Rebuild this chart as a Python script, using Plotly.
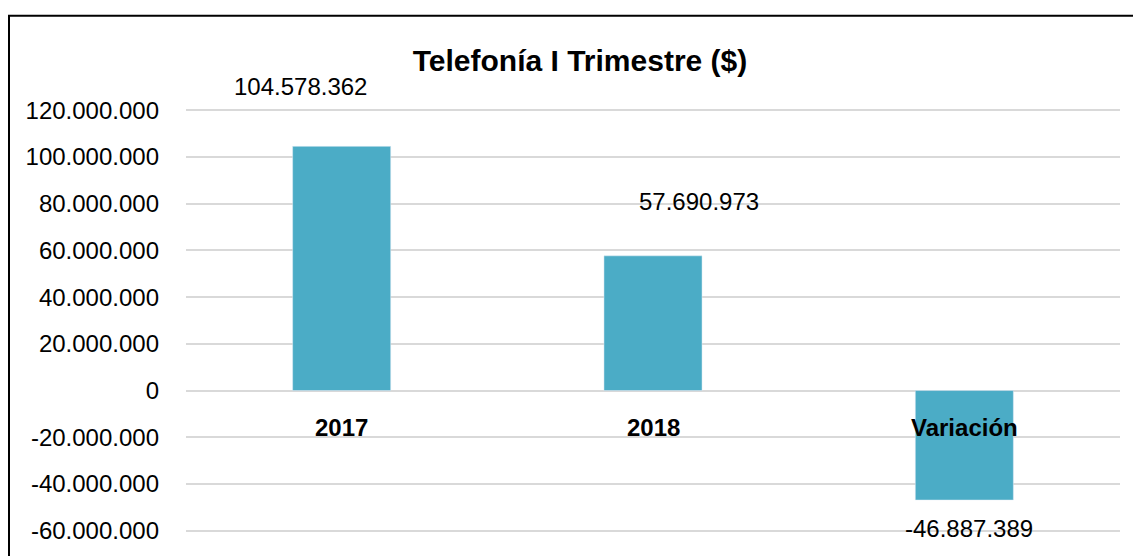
'''
    Bar chart: Telefonía I Trimestre ($), 2017 vs 2018 and the variation.
'''

import plotly.graph_objects as go

categories = ["2017", "2018", "Variación"]
values = [104578362, 57690973, -46887389]
value_labels = ["104.578.362", "57.690.973", "-46.887.389"]
y_ticks = list(range(-60000000, 120000001, 20000000))
y_tick_labels = ["{:,}".format(v).replace(",", ".") for v in y_ticks]

FONT = "Liberation Sans, Arial, sans-serif"
BAR_COLOR = "#4BACC6"

W, H = 1133, 556
L, R, T, B = 186, 13, 108, 19

fig = go.Figure(go.Bar(x=categories, y=values, marker_color=BAR_COLOR,
                       width=0.315, hoverinfo="skip"))

# data labels were moved by hand in the original, so keep the offsets.
# annotations use the category index (a name like "2017" would be read as an index)
label_shifts = [(-41, 60), (46, 54), (5, -28)]
for i, (val, txt, (dx, dy)) in enumerate(zip(values, value_labels, label_shifts)):
    fig.add_annotation(x=i, y=val, text=txt, showarrow=False,
                       xshift=dx, yshift=dy,
                       font=dict(family=FONT, size=24, color="black"))

# category names sit just under the zero line
for i, cat in enumerate(categories):
    fig.add_annotation(x=i, y=0, text="<b>" + cat + "</b>", showarrow=False,
                       yshift=-37, font=dict(family=FONT, size=24, color="black"))

fig.update_layout(
    width=W, height=H,
    margin=dict(l=L, r=R, t=T, b=B),
    paper_bgcolor="white", plot_bgcolor="white",
    showlegend=False,
    title=dict(text="<b>Telefonía I Trimestre ($)</b>", x=580 / W,
               xanchor="center", y=1 - 60 / H, yanchor="middle",
               font=dict(family=FONT, size=30, color="black")),
    xaxis=dict(type="category", range=[-0.5, 2.5], showticklabels=False,
               showgrid=False, zeroline=False, showline=False),
    # a little slack on both ends so the outer gridlines are drawn
    yaxis=dict(range=[-61000000, 121000000], tickvals=y_ticks,
               ticktext=y_tick_labels, showgrid=True, gridcolor="#D9D9D9",
               gridwidth=1.5, zeroline=True, zerolinecolor="#D9D9D9",
               zerolinewidth=1.5, showline=False, ticklabelstandoff=26,
               tickfont=dict(family=FONT, size=24, color="black")),
)

# chart frame, cut off by the window on the right and bottom
pw, ph = W - L - R, H - T - B
fig.add_shape(type="rect", xref="paper", yref="paper",
              x0=(9 - L) / pw, x1=(W + 20 - L) / pw,
              y0=(H - B - (H + 20)) / ph, y1=(H - B - 15) / ph,
              line=dict(color="black", width=2), layer="below")

# drop the default body margin so the figure fills the window exactly
fig.write_html("out.html", config={"displayModeBar": False},
               post_script="document.body.style.margin='0';"
                           "document.documentElement.style.overflow='hidden';")
